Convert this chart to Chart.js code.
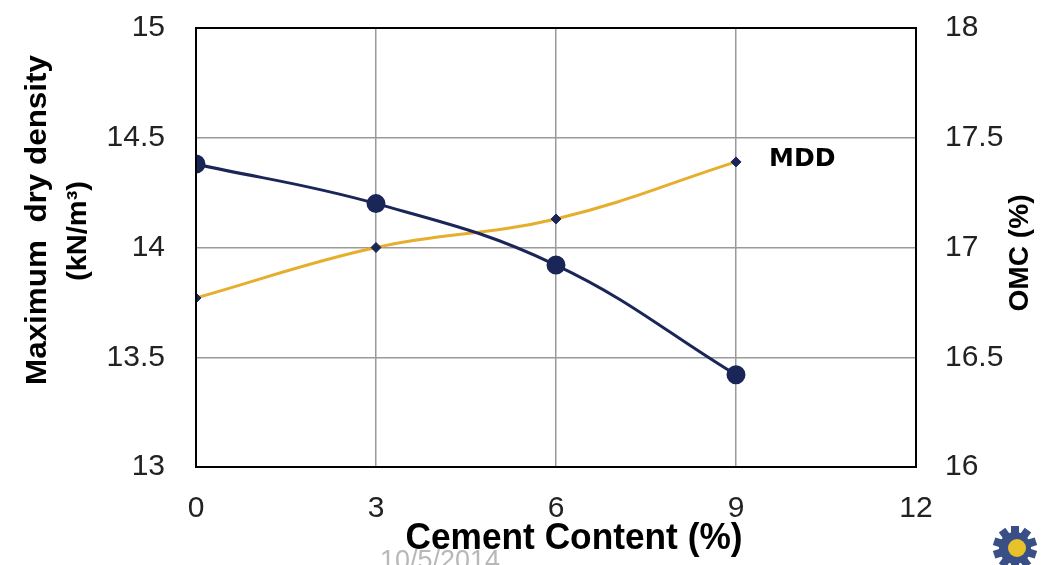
<!DOCTYPE html>
<html>
<head>
<meta charset="utf-8">
<script src="https://cdn.jsdelivr.net/npm/chart.js@4"></script>
<style>
  body { margin: 0; background: #fff; }
  #wrap { width: 1046px; height: 565px; }
</style>
</head>
<body>
<div id="wrap"><canvas id="myChart" width="1046" height="565"></canvas></div>
<script>
// data
const cementContent = [0, 3, 6, 9];
const mddValues = [14.38, 14.20, 13.92, 13.42];
const omcValues = [16.77, 17.00, 17.13, 17.39];
const xTicks = [0, 3, 6, 9, 12];

const navy = '#1b2658';
const gold = '#e6ae2c';

// draw text squeezed/stretched to a given width
function fitText(ctx, text, x, y, width, angle) {
    const w = ctx.measureText(text).width;
    ctx.save();
    ctx.translate(x, y);
    if (angle) ctx.rotate(angle);
    ctx.scale(width / w, 1);
    ctx.fillText(text, 0, 0);
    ctx.restore();
}

// titles, frame and notes drawn on top
const extras = {
    id: 'extras',
    afterDraw(chart) {
        const ctx = chart.ctx;
        const a = chart.chartArea;
        ctx.save();
        ctx.strokeStyle = '#000';
        ctx.lineWidth = 2;
        ctx.strokeRect(a.left, a.top, a.right - a.left, a.bottom - a.top);

        ctx.fillStyle = '#000';
        ctx.textAlign = 'center';
        ctx.textBaseline = 'middle';

        // left title, two lines
        ctx.font = 'bold 30px "Liberation Sans"';
        fitText(ctx, 'Maximum  dry density', 38, 220, 330, -Math.PI / 2);
        ctx.font = 'bold 28px "Liberation Sans"';
        fitText(ctx, '(kN/m³)', 78, 231, 100, -Math.PI / 2);

        // right title
        ctx.font = 'bold 28px "Liberation Sans"';
        fitText(ctx, 'OMC (%)', 1020, 253, 117, -Math.PI / 2);

        // x title
        ctx.font = 'bold 36px "Liberation Sans"';
        fitText(ctx, 'Cement Content (%)', 574, 539, 337, 0);

        // series note
        ctx.textAlign = 'left';
        ctx.font = 'bold 25px "DejaVu Sans"';
        ctx.fillText('MDD', 769, 159);

        // date footer, cut at the bottom edge
        ctx.fillStyle = '#b8b8b8';
        ctx.textBaseline = 'top';
        ctx.font = '28px "Liberation Sans"';
        fitText(ctx, '10/5/2014', 380, 547, 120, 0);

        // small gear logo in the corner
        ctx.translate(1015, 548);
        ctx.fillStyle = '#3a4f86';
        for (let i = 0; i < 10; i++) {
            ctx.save();
            ctx.rotate(i * Math.PI / 5);
            ctx.fillRect(-4, -22, 8, 8);
            ctx.restore();
        }
        ctx.beginPath();
        ctx.arc(0, 0, 16, 0, Math.PI * 2);
        ctx.fill();
        ctx.fillStyle = '#e8c22a';
        ctx.beginPath();
        ctx.arc(2, 0, 9, 0, Math.PI * 2);
        ctx.fill();
        ctx.restore();
    }
};

const tickFont = { family: 'Liberation Sans', size: 30 };

// fixed axis box sizes so the plot area sits where the reference has it
function fixBox(size, key) {
    return function (scale) {
        scale[key] = size;
        scale.paddingTop = 0;
        scale.paddingBottom = 0;
        scale.paddingLeft = 0;
        scale.paddingRight = 0;
    };
}

const ctx = document.getElementById('myChart').getContext('2d');

new Chart(ctx, {
    type: 'line',
    data: {
        datasets: [{
            label: 'MDD',
            data: cementContent.map((x, i) => ({ x: x, y: mddValues[i] })),
            yAxisID: 'y',
            borderColor: navy,
            backgroundColor: navy,
            borderWidth: 3,
            pointRadius: 8,
            pointBackgroundColor: navy,
            pointBorderColor: navy,
            tension: 0.4
        }, {
            label: 'OMC',
            data: cementContent.map((x, i) => ({ x: x, y: omcValues[i] })),
            yAxisID: 'y1',
            borderColor: gold,
            backgroundColor: navy,
            borderWidth: 3,
            pointStyle: 'rectRot',
            pointRadius: 5,
            pointBackgroundColor: navy,
            pointBorderColor: navy,
            pointBorderWidth: 1,
            tension: 0.4
        }]
    },
    options: {
        responsive: false,
        animation: false,
        layout: { padding: { top: 28 } },
        plugins: {
            legend: { display: false },
            tooltip: { enabled: false }
        },
        scales: {
            x: {
                type: 'linear',
                min: 0,
                max: 12,
                afterBuildTicks(scale) {
                    scale.ticks = xTicks.map(v => ({ value: v }));
                },
                afterFit: fixBox(98, 'height'),
                grid: { color: '#9a9a9a', lineWidth: 1.5, drawTicks: false },
                border: { display: false },
                ticks: { padding: 24, color: '#222', font: tickFont }
            },
            y: {
                position: 'left',
                min: 13,
                max: 15,
                afterFit: fixBox(196, 'width'),
                grid: { color: '#9a9a9a', lineWidth: 1.5, drawTicks: false },
                border: { display: false },
                ticks: {
                    stepSize: 0.5,
                    padding: 31,
                    color: '#222',
                    font: tickFont,
                    callback: v => String(v)
                }
            },
            y1: {
                position: 'right',
                min: 16,
                max: 18,
                afterFit: fixBox(130, 'width'),
                grid: { display: false, drawTicks: false },
                border: { display: false },
                ticks: {
                    stepSize: 0.5,
                    padding: 29,
                    color: '#222',
                    font: tickFont,
                    callback: v => String(v)
                }
            }
        }
    },
    plugins: [extras]
});
</script>
</body>
</html>
